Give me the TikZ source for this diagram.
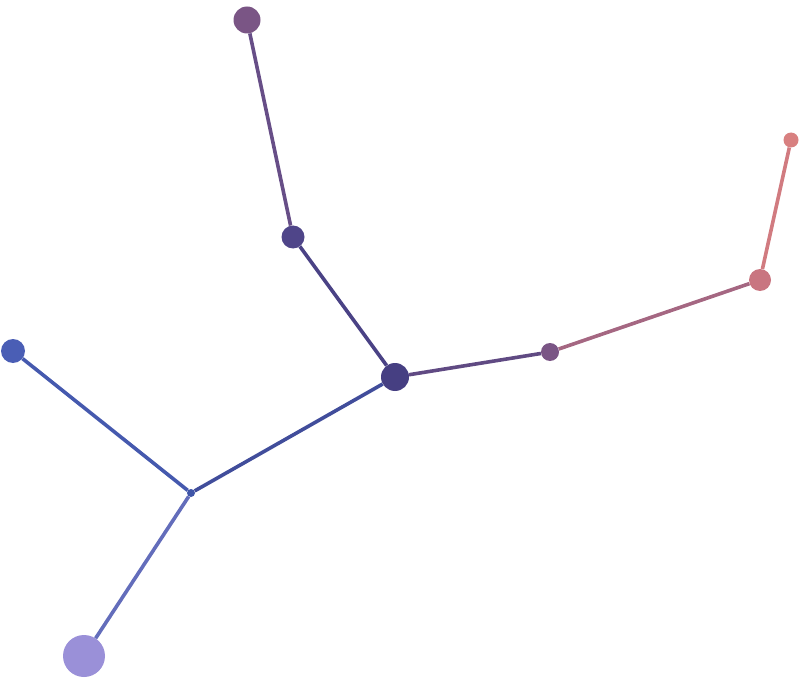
\documentclass[tikz,border=0pt]{standalone}
\begin{document}
\begin{tikzpicture}[x=1pt,y=-1pt,
  dot/.style={circle,inner sep=0pt,draw=none},
  edge/.style={line width=3.6pt}]
\definecolor{cA}{HTML}{7A5585}
\definecolor{cB}{HTML}{4F4589}
\definecolor{cC}{HTML}{463F82}
\definecolor{cD}{HTML}{7A5585}
\definecolor{cE}{HTML}{C97580}
\definecolor{cF}{HTML}{D88080}
\definecolor{cG}{HTML}{4A5EB5}
\definecolor{cH}{HTML}{3F55A8}
\definecolor{cI}{HTML}{9A90D8}
\useasboundingbox (0,0) rectangle (804,682);
\node[dot,fill=cA,minimum size=27] (A) at (247,20) {};
\node[dot,fill=cB,minimum size=23] (B) at (293,237) {};
\node[dot,fill=cC,minimum size=28] (C) at (395,377) {};
\node[dot,fill=cD,minimum size=18] (D) at (550,352) {};
\node[dot,fill=cE,minimum size=22] (E) at (760,280) {};
\node[dot,fill=cF,minimum size=15] (F) at (791,140) {};
\node[dot,fill=cG,minimum size=24] (G) at (13,351) {};
\node[dot,fill=cH,minimum size=8] (H) at (191,493) {};
\node[dot,fill=cI,minimum size=42] (I) at (84,656) {};
\draw[edge,color=cA!55!cB] (A) -- (B);
\draw[edge,color=cB!50!cC] (B) -- (C);
\draw[edge,color=cC!50!cD] (C) -- (D);
\draw[edge,color=cD!45!cE] (D) -- (E);
\draw[edge,color=cE!50!cF] (E) -- (F);
\draw[edge,color=cC!35!cH] (C) -- (H);
\draw[edge,color=cH!50!cG] (H) -- (G);
\draw[edge,color=cH!60!cI] (H) -- (I);
\end{tikzpicture}
\end{document}
